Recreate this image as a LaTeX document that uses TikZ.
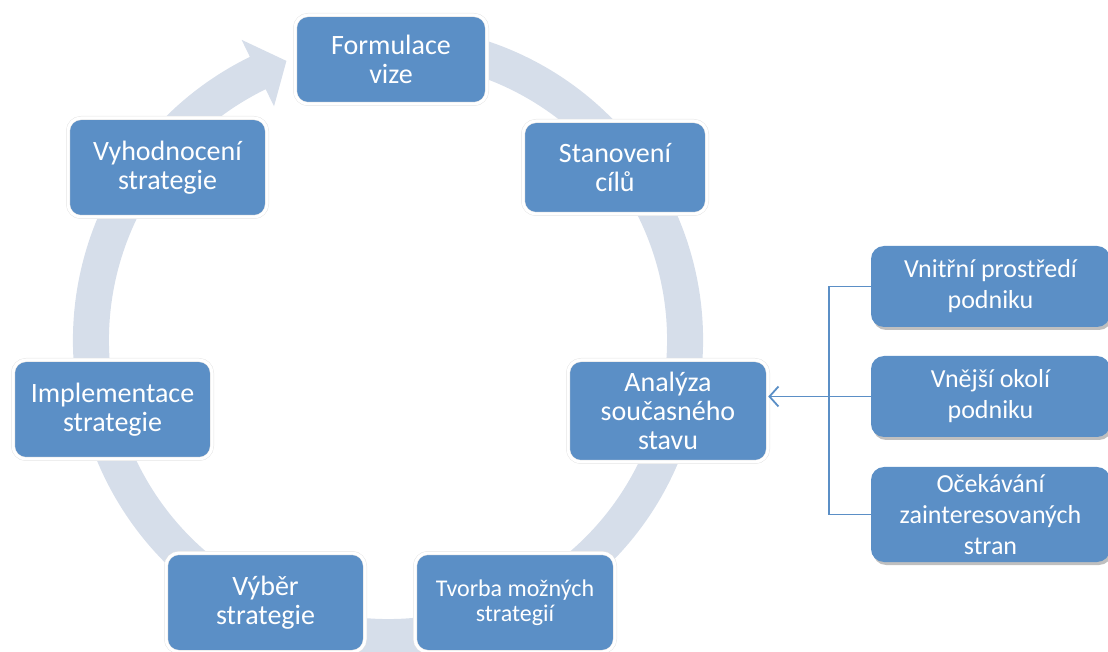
\documentclass[tikz,border=0pt]{standalone}
\usepackage{fontspec}
\setmainfont{Carlito}
\usetikzlibrary{arrows.meta,shadows}
\definecolor{boxblue}{RGB}{91,143,198}
\definecolor{ringgray}{RGB}{214,222,234}
\tikzset{
  cyclebox/.style={rounded corners=13pt, fill=boxblue, draw=black!10, line width=0.5pt,
    double=white, double distance=3pt, text=white, align=center, inner sep=0pt,
    font=\fontsize{28}{29}\selectfont},
  sidebox/.style={rounded corners=13pt, fill=boxblue, text=white, align=center, inner sep=0pt,
    minimum width=239pt, font=\fontsize{26}{31}\selectfont,
    drop shadow={shadow xshift=2pt, shadow yshift=-3pt, fill=black, opacity=0.25}},
  link/.style={draw=boxblue, line width=1.8pt},
  ring/.style={fill=ringgray},
}
\begin{document}
\begin{tikzpicture}[x=1pt, y=1pt]
\useasboundingbox (0,0) rectangle (1108,651);

% circular arrow behind the cycle
\begin{scope}[shift={(388,311)}]
  \fill[ring] (76:315pt) arc[start angle=76, end angle=-244, radius=315pt]
    -- (116:334pt) -- (110:297pt) -- (116:260pt) -- (116:279pt)
    arc[start angle=-244, end angle=76, radius=279pt] -- cycle;
\end{scope}

% steps of the cycle
\node[cyclebox, minimum width=192pt, minimum height=89pt] (vize) at (391,591.5) {Formulace\\vize};
\node[cyclebox, minimum width=184pt, minimum height=93pt] (cile) at (615,483.5) {Stanovení\\cílů};
\node[cyclebox, minimum width=200pt, minimum height=102pt] (analyza) at (668,240) {Analýza\\současného\\stavu};
\node[cyclebox, minimum width=200pt, minimum height=99pt, font=\fontsize{24}{25}\selectfont] (tvorba) at (515,48.5) {Tvorba možných\\strategií};
\node[cyclebox, minimum width=199pt, minimum height=99pt] (vyber) at (265.5,48.5) {Výběr\\strategie};
\node[cyclebox, minimum width=199pt, minimum height=99pt] (impl) at (112.5,241.5) {Implementace\\strategie};
\node[cyclebox, minimum width=199pt, minimum height=99pt] (vyhod) at (167.5,483.5) {Vyhodnocení\\strategie};

% inputs of the analysis
\node[sidebox, minimum height=81pt] (vnitrni) at (990.5,364.5) {Vnitřní prostředí\\podniku};
\node[sidebox, minimum height=81pt] (vnejsi) at (990.5,254.5) {Vnější okolí\\podniku};
\node[sidebox, minimum height=95pt] (ocekavani) at (990.5,136.5) {Očekávání\\zainteresovaných\\stran};

\coordinate (bus) at (829,250);
\draw[link] (vnitrni.west) -| (bus |- ocekavani.west) -- (ocekavani.west);
\draw[link, -{Straight Barb[length=9pt, width=20pt]}] (vnejsi.west) -- (vnejsi.west -| analyza.east);
\end{tikzpicture}
\end{document}
